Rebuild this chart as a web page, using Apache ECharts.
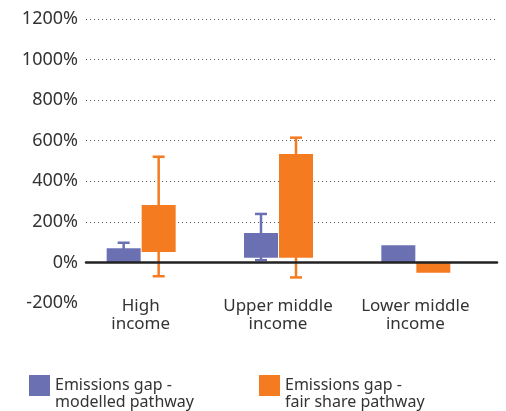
<!DOCTYPE html>
<html>
<head>
<meta charset="utf-8">
<script src="https://cdn.jsdelivr.net/npm/echarts@6/dist/echarts.min.js"></script>
<style>
  html, body { margin: 0; padding: 0; background: #fff; }
  #main { width: 506px; height: 411px; }
</style>
</head>
<body>
<div id="main"></div>
<script>
var categories = ['High\nincome', 'Upper middle\nincome', 'Lower middle\nincome'];
var seriesNames = ['Emissions gap -\nmodelled pathway', 'Emissions gap -\nfair share pathway'];

// box low / high and whisker low / high (%) for each category
var modelledLow = [0, 23, 0];
var modelledHigh = [70, 145, 85];
var modelledWhiskerLow = [40, 11, null];
var modelledWhiskerHigh = [97, 239, null];

var fairLow = [51, 23, -51];
var fairHigh = [283, 535, 0];
var fairWhiskerLow = [-68, -74, null];
var fairWhiskerHigh = [521, 615, null];

var colors = ['#6b70b3', '#f47b20'];
var fontFamily = '"Noto Sans", sans-serif';

function buildData(low, high, wLow, wHigh) {
  return categories.map(function (c, i) {
    return [i, low[i], high[i], wLow[i], wHigh[i]];
  });
}

function makeRender(offset, color) {
  return function (params, api) {
    var idx = api.value(0);
    var p1 = api.coord([idx, api.value(1)]);
    var p2 = api.coord([idx, api.value(2)]);
    var x = p1[0] + offset;
    var w = 34;
    var children = [];
    var wl = api.value(3), wh = api.value(4);
    if (wl != null && !isNaN(wl) && wh != null && !isNaN(wh)) {
      var y1 = api.coord([idx, wl])[1];
      var y2 = api.coord([idx, wh])[1];
      var st = { stroke: color, lineWidth: 2.5, fill: null };
      children.push({ type: 'line', shape: { x1: x, y1: y1, x2: x, y2: y2 }, style: st });
      children.push({ type: 'line', shape: { x1: x - 6, y1: y1, x2: x + 6, y2: y1 }, style: st });
      children.push({ type: 'line', shape: { x1: x - 6, y1: y2, x2: x + 6, y2: y2 }, style: st });
    }
    var top = Math.min(p1[1], p2[1]);
    var h = Math.abs(p1[1] - p2[1]);
    children.push({
      type: 'rect',
      shape: { x: x - w / 2, y: top, width: w, height: h },
      style: { fill: color }
    });
    return { type: 'group', children: children };
  };
}

var chart = echarts.init(document.getElementById('main'));

// empty first line so the first text line sits level with the square
var legendText = function (name) { return '\n' + name; };

var option = {
  animation: false,
  textStyle: { fontFamily: fontFamily },
  legend: [
    {
      left: 29, top: 360, padding: 0,
      icon: 'rect', itemWidth: 21, itemHeight: 21,
      data: [seriesNames[0]], formatter: legendText,
      textStyle: { fontSize: 16, lineHeight: 17, color: '#333' }
    },
    {
      left: 259, top: 360, padding: 0,
      icon: 'rect', itemWidth: 21, itemHeight: 21,
      data: [seriesNames[1]], formatter: legendText,
      textStyle: { fontSize: 16, lineHeight: 17, color: '#333' }
    }
  ],
  grid: [
    { left: 86, right: 9, top: 19, bottom: 108 },
    { left: 72, right: 22, top: 19, bottom: 108 }
  ],
  xAxis: [
    {
      gridIndex: 0, type: 'value', min: 0, max: 1, z: 10,
      axisLine: { show: true, onZero: true, lineStyle: { color: '#222', width: 2.5 } },
      axisTick: { show: false }, axisLabel: { show: false }, splitLine: { show: false }
    },
    {
      gridIndex: 1, type: 'category', data: categories,
      axisLine: { show: false, onZero: false }, axisTick: { show: false },
      axisLabel: { color: '#333', fontSize: 17, lineHeight: 18, margin: -6, interval: 0 }
    }
  ],
  yAxis: [
    {
      gridIndex: 0, type: 'value', min: -200, max: 1200, interval: 200,
      axisLine: { show: false }, axisTick: { show: false },
      axisLabel: {
        formatter: function (v) { return v + '%'; },
        color: '#333', fontSize: 18, margin: 8
      },
      splitLine: {
        lineStyle: {
          type: [1, 3], width: 1,
          color: ['rgba(0,0,0,0)', 'rgba(0,0,0,0)', '#555', '#555', '#555', '#555', '#555', '#555']
        }
      }
    },
    {
      gridIndex: 1, type: 'value', min: -200, max: 1200, interval: 200,
      show: false, splitLine: { show: false }
    }
  ],
  series: [
    {
      name: seriesNames[0], type: 'custom', xAxisIndex: 1, yAxisIndex: 1,
      itemStyle: { color: colors[0] },
      renderItem: makeRender(-17, colors[0]),
      encode: { x: 0, y: [1, 2, 3, 4] },
      data: buildData(modelledLow, modelledHigh, modelledWhiskerLow, modelledWhiskerHigh)
    },
    {
      name: seriesNames[1], type: 'custom', xAxisIndex: 1, yAxisIndex: 1,
      itemStyle: { color: colors[1] },
      renderItem: makeRender(18, colors[1]),
      encode: { x: 0, y: [1, 2, 3, 4] },
      data: buildData(fairLow, fairHigh, fairWhiskerLow, fairWhiskerHigh)
    }
  ]
};

chart.setOption(option);
</script>
</body>
</html>
